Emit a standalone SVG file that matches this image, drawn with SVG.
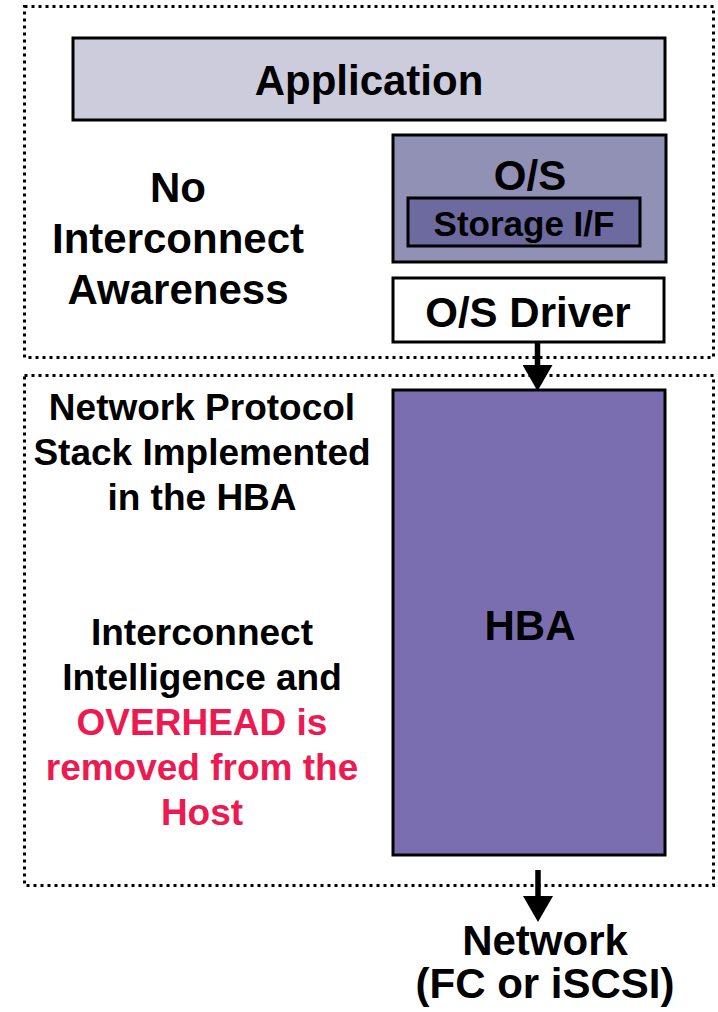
<svg xmlns="http://www.w3.org/2000/svg" width="718" height="1012" viewBox="0 0 718 1012">
  <defs>
    <style>
      .zone { fill: none; stroke: #000; stroke-width: 3; stroke-dasharray: 3 4; }
      .box { stroke: #000; stroke-width: 3; }
      .t { font-family: "Liberation Sans", Arial, sans-serif; font-weight: bold; fill: #000; text-anchor: middle; }
      .big { font-size: 42px; }
      .mid { font-size: 37px; }
      .red { fill: #EC1A50; }
      .wire { stroke: #000; stroke-width: 5.5; fill: none; }
    </style>
    <!-- head base sits on the line end, tip extends 26px beyond it -->
    <marker id="head" viewBox="0 0 26 30" refX="0" refY="15" markerUnits="userSpaceOnUse" markerWidth="26" markerHeight="30" orient="auto">
      <path d="M0,0 L26,15 L0,30 Z" fill="#000"/>
    </marker>
  </defs>
  <rect width="718" height="1012" fill="#fff"/>

  <!-- host software zone -->
  <rect id="host-zone" class="zone" x="24.5" y="6.5" width="689" height="351"/>
  <!-- adapter zone -->
  <rect id="hba-zone" class="zone" x="24.5" y="375.5" width="689" height="510"/>

  <g id="application">
    <rect class="box" x="73" y="38" width="592" height="82" fill="#CDCCDD"/>
    <text class="t big" x="369" y="95">Application</text>
  </g>

  <g id="os">
    <rect class="box" x="393" y="135" width="273" height="127" fill="#9190B5"/>
    <text class="t big" x="530" y="190">O/S</text>
  </g>

  <g id="storage-if">
    <rect class="box" x="408" y="198" width="232" height="48" fill="#6C6A9E"/>
    <text class="t" font-size="35" x="524" y="236">Storage I/F</text>
  </g>

  <g id="os-driver">
    <rect class="box" x="393" y="278" width="271" height="64" fill="#fff"/>
    <text class="t big" x="528" y="327">O/S Driver</text>
  </g>

  <g id="hba">
    <rect class="box" x="393" y="390" width="272" height="465" fill="#7B6EB0"/>
    <text class="t big" x="530" y="640">HBA</text>
  </g>

  <g id="no-awareness">
    <text class="t big" x="178" y="202">No</text>
    <text class="t big" x="178" y="253">Interconnect</text>
    <text class="t big" x="178" y="304">Awareness</text>
  </g>

  <g id="protocol-stack">
    <text class="t mid" x="202" y="420">Network Protocol</text>
    <text class="t mid" x="202" y="465">Stack Implemented</text>
    <text class="t mid" x="202" y="510">in the HBA</text>
  </g>

  <g id="overhead">
    <text class="t mid" x="202" y="645">Interconnect</text>
    <text class="t mid" x="202" y="690">Intelligence and</text>
    <text class="t mid red" x="202" y="735">OVERHEAD is</text>
    <text class="t mid red" x="202" y="780">removed from the</text>
    <text class="t mid red" x="202" y="825">Host</text>
  </g>

  <g id="network">
    <text class="t big" x="545" y="955">Network</text>
    <text class="t big" x="545" y="998">(FC or iSCSI)</text>
  </g>

  <g id="connectors">
    <line class="wire" x1="537.5" y1="342" x2="537.5" y2="365" marker-end="url(#head)"/>
    <line class="wire" x1="538" y1="870" x2="538" y2="896" marker-end="url(#head)"/>
  </g>
</svg>
